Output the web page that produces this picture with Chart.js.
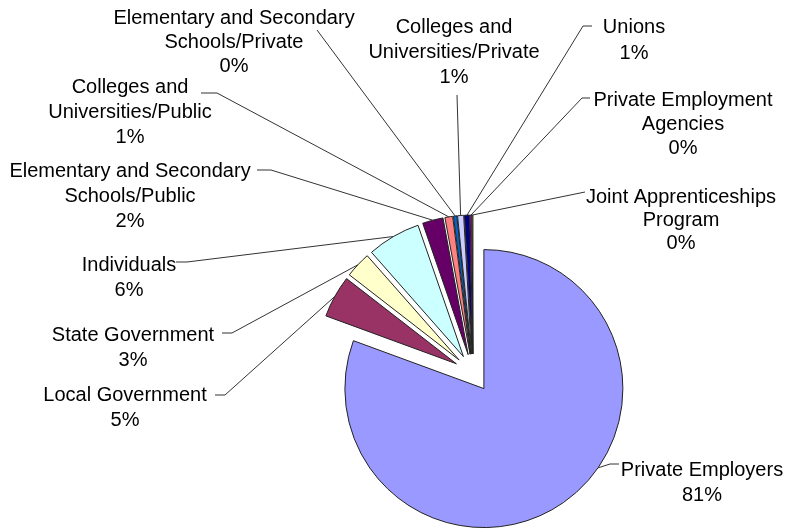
<!DOCTYPE html>
<html>
<head>
<meta charset="utf-8">
<title>Employers</title>
<script src="https://cdn.jsdelivr.net/npm/chart.js@4.4.1/dist/chart.umd.min.js"></script>
<style>
  body { margin: 0; background: #fff; }
  #wrap { width: 787px; height: 529px; }
</style>
</head>
<body>
<div id="wrap"><canvas id="employerPie"></canvas></div>
<script>
// slice names, already broken into the lines they are printed on
const categories = [
  ['Private Employers'],
  ['Local Government'],
  ['State Government'],
  ['Individuals'],
  ['Elementary and Secondary', 'Schools/Public'],
  ['Colleges and', 'Universities/Public'],
  ['Elementary and Secondary', 'Schools/Private'],
  ['Colleges and', 'Universities/Private'],
  ['Unions'],
  ['Private Employment', 'Agencies'],
  ['Joint Apprenticeships', 'Program']
];

// share of the total, in percent
const shares = [80.6, 4.9, 3.0, 6.2, 2.4, 0.9, 0.4, 0.7, 0.6, 0.2, 0.1];

const sliceColors = [
  '#9999FF', '#993366', '#FFFFCC', '#CCFFFF', '#660066', '#FF8080',
  '#0066CC', '#CCCCFF', '#000080', '#FF00FF', '#FFFF00'
];

const explode = 19;   // how far each slice is pulled out
const lineGap = 25;

// where each label goes: centre of text, first line y, start of leader line,
// optional elbow, and how far along the slice's edge the leader ends
const labelSpots = [
  { x: 702, y: 470, from: [619, 464], elbow: [610, 464], along: 0.43 },
  { x: 125, y: 395, from: [215, 395], elbow: [225, 395] },
  { x: 133, y: 335, from: [222, 333], elbow: [232, 333] },
  { x: 129, y: 265, from: [176, 262], elbow: [187, 262] },
  { x: 130, y: 171, from: [257, 170], elbow: [271, 170] },
  { x: 130, y: 87,  from: [201, 93],  elbow: [217, 93] },
  { x: 234, y: 18, gap: 24, from: [317, 30] },
  { x: 454, y: 27,  from: [457, 95] },
  { x: 634, y: 27, gap: 26, from: [592, 26], elbow: [583, 26] },
  { x: 683, y: 100, gap: 24, from: [590, 98], elbow: [582, 98] },
  { x: 681, y: 197, gap: 23, from: [585, 192] }
];

const callouts = {
  id: 'callouts',
  beforeDatasetsDraw(chart) {
    const area = chart.chartArea;
    const cx = (area.left + area.right) / 2;
    const cy = (area.top + area.bottom) / 2;
    chart.getDatasetMeta(0).data.forEach(arc => {
      const mid = (arc.startAngle + arc.endAngle) / 2;
      arc.x = cx + Math.cos(mid) * explode;
      arc.y = cy + Math.sin(mid) * explode;
    });
  },
  afterDatasetsDraw(chart) {
    const ctx = chart.ctx;
    const total = shares.reduce((a, b) => a + b, 0);
    ctx.save();
    ctx.font = '20px "Liberation Sans", Arial, sans-serif';
    ctx.fillStyle = '#000';
    ctx.textAlign = 'center';
    ctx.textBaseline = 'middle';
    ctx.strokeStyle = '#333';
    ctx.lineWidth = 1;
    chart.getDatasetMeta(0).data.forEach((arc, i) => {
      const spot = labelSpots[i];
      const gap = spot.gap || lineGap;
      const lines = categories[i].concat(Math.round(shares[i] / total * 100) + '%');
      lines.forEach((t, k) => ctx.fillText(t, spot.x, spot.y + k * gap));

      const a = arc.startAngle + (arc.endAngle - arc.startAngle) * (spot.along ?? 0.5);
      const ex = arc.x + Math.cos(a) * arc.outerRadius;
      const ey = arc.y + Math.sin(a) * arc.outerRadius;
      ctx.beginPath();
      ctx.moveTo(spot.from[0], spot.from[1]);
      if (spot.elbow) ctx.lineTo(spot.elbow[0], spot.elbow[1]);
      ctx.lineTo(ex, ey);
      ctx.stroke();
    });
    ctx.restore();
  }
};

new Chart(document.getElementById('employerPie'), {
  type: 'pie',
  data: {
    labels: categories,
    datasets: [{
      data: shares,
      backgroundColor: sliceColors,
      borderColor: '#222',
      borderWidth: 1,
      radius: 139
    }]
  },
  options: {
    responsive: true,
    maintainAspectRatio: false,
    animation: false,
    layout: {
      padding: { left: 159, right: 0, top: 217, bottom: 0 }
    },
    plugins: {
      legend: { display: false },
      tooltip: { enabled: false }
    }
  },
  plugins: [callouts]
});
</script>
</body>
</html>
